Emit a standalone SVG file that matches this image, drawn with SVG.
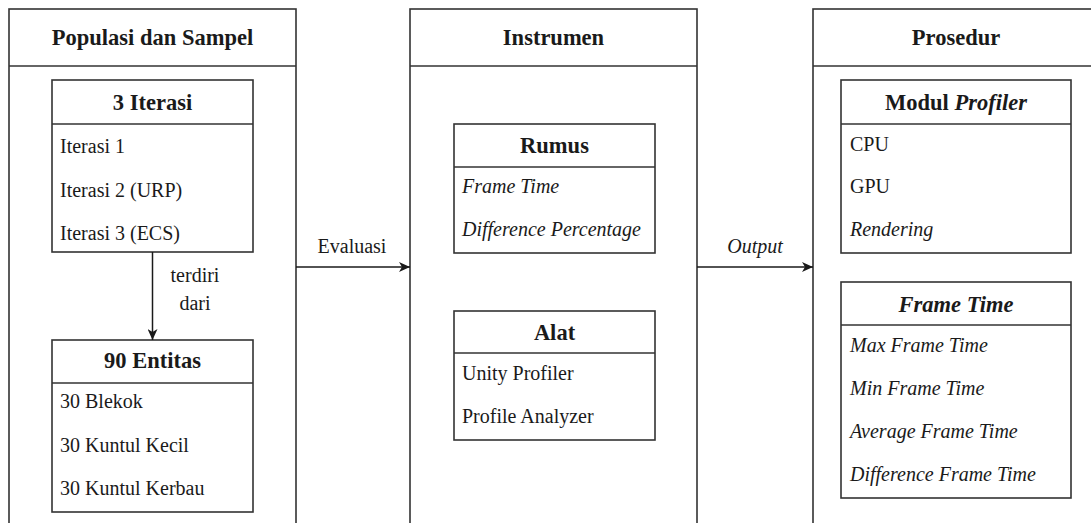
<svg xmlns="http://www.w3.org/2000/svg" width="1091" height="523" viewBox="0 0 1091 523">
  <style>
    .frame { fill: #ffffff; stroke: #333333; stroke-width: 1.6; }
    .rule { stroke: #333333; stroke-width: 1.6; fill: none; }
    .edge { stroke: #1a1a1a; stroke-width: 1.5; fill: none; }
    text { font-family: "Liberation Serif", "Times New Roman", serif; fill: #1a1a1a; }
    .title { font-size: 22.5px; font-weight: bold; text-anchor: middle; }
    .item { font-size: 20px; }
    .lbl { font-size: 20px; text-anchor: middle; }
    .it { font-style: italic; }
  </style>
  <defs>
    <marker id="arrow" markerWidth="12" markerHeight="10" refX="11" refY="5" orient="auto" markerUnits="userSpaceOnUse">
      <path d="M0,0 L11,5 L0,10 L3,5 Z" fill="#1a1a1a"/>
    </marker>
  </defs>
  <rect width="1091" height="523" fill="#ffffff"/>

  <!-- Column: Populasi dan Sampel -->
  <g id="populasi">
    <rect class="frame" x="9" y="9" width="287" height="530"/>
    <line class="rule" x1="9" y1="66" x2="296" y2="66"/>
    <text class="title" x="152.5" y="45">Populasi dan Sampel</text>
  </g>
  <g id="iterasi">
    <rect class="frame" x="52" y="80" width="201" height="172"/>
    <line class="rule" x1="52" y1="124" x2="253" y2="124"/>
    <text class="title" x="152.5" y="110">3 Iterasi</text>
    <text class="item" x="60" y="153">Iterasi 1</text>
    <text class="item" x="60" y="197">Iterasi 2 (URP)</text>
    <text class="item" x="60" y="240">Iterasi 3 (ECS)</text>
  </g>
  <g id="entitas">
    <rect class="frame" x="52" y="340" width="201" height="172"/>
    <line class="rule" x1="52" y1="383" x2="253" y2="383"/>
    <text class="title" x="152.5" y="368">90 Entitas</text>
    <text class="item" x="60" y="408">30 Blekok</text>
    <text class="item" x="60" y="452">30 Kuntul Kecil</text>
    <text class="item" x="60" y="495">30 Kuntul Kerbau</text>
  </g>

  <!-- Column: Instrumen -->
  <g id="instrumen">
    <rect class="frame" x="410" y="9" width="287" height="530"/>
    <line class="rule" x1="410" y1="66" x2="697" y2="66"/>
    <text class="title" x="553.5" y="45">Instrumen</text>
  </g>
  <g id="rumus">
    <rect class="frame" x="454" y="124" width="201" height="129"/>
    <line class="rule" x1="454" y1="167" x2="655" y2="167"/>
    <text class="title" x="554.5" y="153">Rumus</text>
    <text class="item it" x="462" y="193">Frame Time</text>
    <text class="item it" x="462" y="236">Difference Percentage</text>
  </g>
  <g id="alat">
    <rect class="frame" x="454" y="311" width="201" height="129"/>
    <line class="rule" x1="454" y1="353" x2="655" y2="353"/>
    <text class="title" x="554.5" y="340">Alat</text>
    <text class="item" x="462" y="380">Unity Profiler</text>
    <text class="item" x="462" y="423">Profile Analyzer</text>
  </g>

  <!-- Column: Prosedur -->
  <g id="prosedur">
    <rect class="frame" x="813" y="9" width="290" height="530"/>
    <line class="rule" x1="813" y1="66" x2="1103" y2="66"/>
    <text class="title" x="956" y="45">Prosedur</text>
  </g>
  <g id="modul-profiler">
    <rect class="frame" x="841" y="80" width="230" height="173"/>
    <line class="rule" x1="841" y1="124" x2="1071" y2="124"/>
    <text class="title" x="956" y="110">Modul <tspan class="it">Profiler</tspan></text>
    <text class="item" x="850" y="151">CPU</text>
    <text class="item" x="850" y="193">GPU</text>
    <text class="item it" x="850" y="236">Rendering</text>
  </g>
  <g id="frame-time">
    <rect class="frame" x="841" y="282" width="230" height="216"/>
    <line class="rule" x1="841" y1="325" x2="1071" y2="325"/>
    <text class="title it" x="956" y="312">Frame Time</text>
    <text class="item it" x="850" y="352">Max Frame Time</text>
    <text class="item it" x="850" y="395">Min Frame Time</text>
    <text class="item it" x="850" y="438">Average Frame Time</text>
    <text class="item it" x="850" y="481">Difference Frame Time</text>
  </g>

  <!-- Connectors -->
  <g id="connectors">
    <line class="edge" x1="152.5" y1="252" x2="152.5" y2="340" marker-end="url(#arrow)"/>
    <text class="lbl" x="195" y="282">terdiri</text>
    <text class="lbl" x="195" y="310">dari</text>

    <line class="edge" x1="296" y1="267" x2="410" y2="267" marker-end="url(#arrow)"/>
    <text class="lbl" x="352" y="253">Evaluasi</text>

    <line class="edge" x1="697" y1="267" x2="813" y2="267" marker-end="url(#arrow)"/>
    <text class="lbl it" x="755" y="253">Output</text>
  </g>
</svg>
